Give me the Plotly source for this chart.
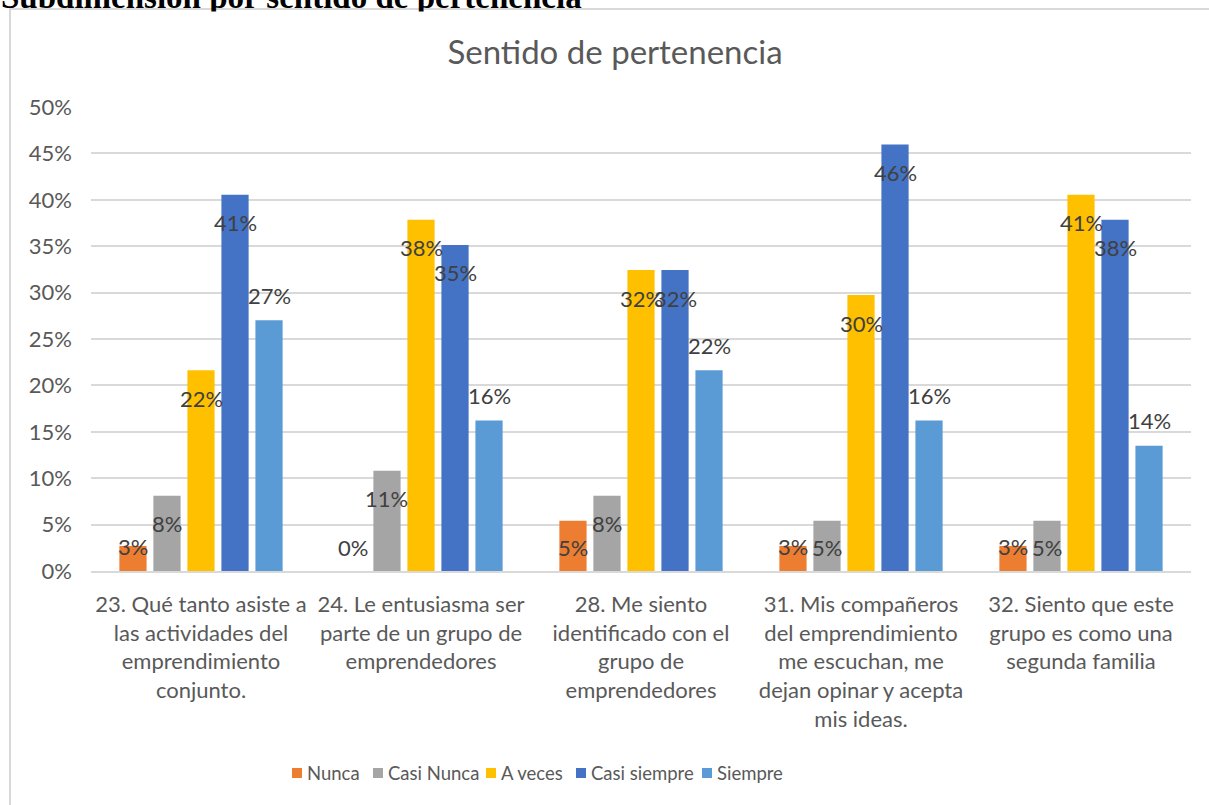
import plotly.graph_objects as go

# ---------------- data ----------------
categories = [
    "23. Qué tanto asiste a<br>las actividades del<br>emprendimiento<br>conjunto.",
    "24. Le entusiasma ser<br>parte de un grupo de<br>emprendedores",
    "28. Me siento<br>identificado con el<br>grupo de<br>emprendedores",
    "31. Mis compañeros<br>del emprendimiento<br>me escuchan, me<br>dejan opinar y acepta<br>mis ideas.",
    "32. Siento que este<br>grupo es como una<br>segunda familia",
]
series_names = ["Nunca", "Casi Nunca", "A veces", "Casi siempre", "Siempre"]
nunca = [0.0270, 0.0, 0.0541, 0.0270, 0.0270]
casi_nunca = [0.0811, 0.1081, 0.0811, 0.0541, 0.0541]
a_veces = [0.2162, 0.3784, 0.3243, 0.2973, 0.4054]
casi_siempre = [0.4054, 0.3514, 0.3243, 0.4595, 0.3784]
siempre = [0.2703, 0.1622, 0.2162, 0.1622, 0.1351]
series_values = [nunca, casi_nunca, a_veces, casi_siempre, siempre]
y_tickvals = [0, 0.05, 0.10, 0.15, 0.20, 0.25, 0.30, 0.35, 0.40, 0.45, 0.50]

# ---------------- style ----------------
colors = ["#ED7D31", "#A5A5A5", "#FFC000", "#4472C4", "#5B9BD5"]
W, H = 1209, 805
L, R, T, B = 91, 18, 107, 234
PW, PH = W - L - R, H - T - B
YMAX = 0.5
BARGAP, BARGROUPGAP = 0.227, 0.2
FONT = "Lato"
TXT = "#595959"
LBL = "#404040"
GRID = "#D9D9D9"
legend_square_left = [292, 373, 486, 576, 702]
LEGEND_Y = 773


def px_x(p):
    return (p - L) / PW


def px_y(p):
    return (H - B - p) / PH


fig = go.Figure()
for name, vals, col in zip(series_names, series_values, colors):
    fig.add_trace(go.Bar(name=name, x=categories, y=vals,
                         marker=dict(color=col, line=dict(width=0)), showlegend=False))

# data labels (Excel-style placement)
px_per_unit = PH / YMAX
slot = PW / len(categories) * (1 - BARGAP) / len(series_names)
annotations = []
for i, vals in enumerate(series_values):
    for c, v in zip(categories, vals):
        bar_px = v * px_per_unit
        if i == len(series_names) - 1:
            ys = 25
        else:
            ys = max(-28, 24 - bar_px)
        annotations.append(dict(
            x=c, y=v, xref="x", yref="y", text=f"{round(v * 100):.0f}%", showarrow=False,
            xshift=(i - 2) * slot, yshift=ys, xanchor="center", yanchor="middle",
            font=dict(family=FONT, size=22, color=LBL),
        ))

shapes = [dict(type="rect", xref="paper", yref="paper",
               x0=px_x(10), x1=px_x(1230), y0=px_y(830), y1=px_y(9),
               line=dict(color=GRID, width=2), layer="below")]

# custom legend (Excel-like compact entries)
for name, col, lx in zip(series_names, colors, legend_square_left):
    shapes.append(dict(type="rect", xref="paper", yref="paper",
                       x0=px_x(lx), x1=px_x(lx + 10), y0=px_y(LEGEND_Y + 5), y1=px_y(LEGEND_Y - 5),
                       fillcolor=col, line=dict(width=0)))
    annotations.append(dict(x=px_x(lx + 13), y=px_y(LEGEND_Y), xref="paper", yref="paper",
                            xanchor="left", yanchor="middle", text=name, showarrow=False,
                            font=dict(family=FONT, size=18.5, color=TXT)))

# document heading (partially cut off at top)
annotations.append(dict(
    x=px_x(-1), y=px_y(17), xref="paper", yref="paper", xanchor="left", yanchor="bottom",
    text="<b>Subdimensión por sentido de pertenencia</b>", showarrow=False,
    font=dict(family="Liberation Serif", size=33, color="#000000"),
))
# white chart area covering the heading's lower part
annotations.append(dict(
    x=px_x(11), y=px_y(10.5), xref="paper", yref="paper", xanchor="left", yanchor="top",
    text=" ", showarrow=False, width=1198, height=20, bgcolor="white", borderpad=0,
))

fig.update_layout(
    width=W, height=H,
    margin=dict(l=L, r=R, t=T, b=B, pad=0),
    paper_bgcolor="white", plot_bgcolor="white",
    barmode="group", bargap=BARGAP, bargroupgap=BARGROUPGAP,
    font=dict(family=FONT, color=TXT),
    title=dict(text="Sentido de pertenencia", x=px_x(615), xref="paper", xanchor="center",
               y=1 - 52 / H, yanchor="middle", yref="container",
               font=dict(family=FONT, size=33, color=TXT)),
    showlegend=False,
    hovermode=False,
    annotations=annotations,
    shapes=shapes,
)
fig.update_yaxes(range=[0, YMAX], tickvals=y_tickvals, tickformat=".0%",
                 showgrid=True, gridcolor=GRID, gridwidth=1.5, zeroline=False,
                 showline=False, ticks="", ticklabelstandoff=18,
                 tickfont=dict(family=FONT, size=22, color=TXT))
fig.update_xaxes(showline=True, linecolor=GRID, linewidth=1.5, ticks="", tickangle=0,
                 ticklabelstandoff=13, tickfont=dict(family=FONT, size=22, color=TXT))

fig.write_html("out.html", config={"displayModeBar": False},
               post_script="document.body.style.margin='0';document.body.style.overflow='hidden';")
